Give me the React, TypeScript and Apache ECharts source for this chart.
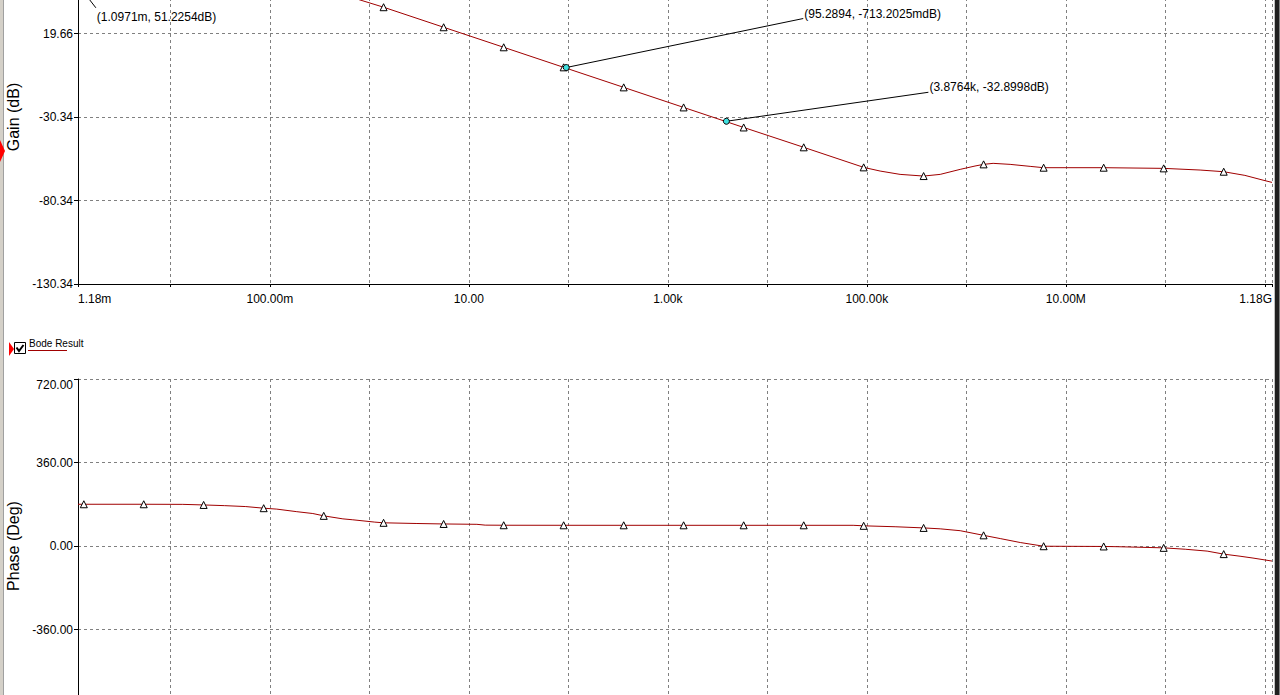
import React, { useEffect, useRef } from "react";
import * as echarts from "echarts";

// ---------- data ----------
const FREQ_MIN = 0.00118;
const FREQ_MAX = 1.18e9;
const xLabelFreqs = [0.00118, 0.1, 10, 1e3, 1e5, 1e7, 1.18e9];

const gainMin = -130.34;
const gainMax = 69.66;
const gainStep = 50;
const phaseMin = -720;
const phaseMax = 720;
const phaseStep = 360;

// gain curve (Hz, dB)
const gainCurveFreq = [
  0.00118, 0.00135, 0.0054, 0.0216, 0.0867, 0.2, 0.348, 0.6, 1.39, 5.58, 22.4, 89.7, 360, 1440, 5780,
  23200, 92900, 135900, 215800, 372000, 546000, 867000, 1.222e6, 1.49e6, 1.858e6, 2.754e6, 4.375e6,
  5.98e6, 2.4e7, 9.62e7, 2.235e8, 3.86e8, 6.3e8, 9.8e8, 1.18e9,
];
const gainCurveDb = [
  51.2, 51.2, 51.2, 51.2, 50.6, 48.7, 45.9, 42.1, 35.4, 23.4, 11.4, -0.6, -12.6, -24.6, -36.6,
  -48.5, -60.5, -62.7, -64.7, -65.7, -64.7, -61.7, -59.7, -58.7, -58.1, -58.7, -59.9,
  -60.7, -60.7, -61.1, -62.1, -63.1, -65.3, -68.3, -69.5,
];

// phase curve (Hz, deg)
const phaseCurveFreq = [
  0.00118, 0.00135, 0.0054, 0.01334, 0.0216, 0.0352, 0.0573, 0.0867, 0.1175, 0.1866, 0.2704, 0.348,
  0.542, 0.682, 1.135, 1.39, 3.006, 5.58, 12.05, 14.6, 22.4, 89.7, 360, 1440, 5780, 23200, 72800,
  92900, 192300, 372000, 546000, 867000, 1.49e6, 2.19e6, 3.48e6, 5.98e6, 2.4e7, 3.28e7, 9.62e7,
  1.585e8, 2.63e8, 3.86e8, 5.63e8, 7.6e8, 1.18e9,
];
const phaseCurveDeg = [
  180, 180, 180, 179.5, 177, 174, 170, 163, 159, 148, 140, 130,
  117, 113, 103, 100, 97, 95, 93.5, 90, 89.5, 89.3, 89.2, 89.2, 89.2, 89.2, 89.2,
  87, 83, 78, 74, 66, 46, 32, 15, -1, -2, -3, -8,
  -14, -22, -35, -44, -52, -65,
];

// triangle markers
const markerFreq = [
  0.00135, 0.0054, 0.0216, 0.0867, 0.348, 1.39, 5.58, 22.4, 89.7, 360, 1440, 5780, 23200, 92900,
  372000, 1.49e6, 5.98e6, 2.4e7, 9.62e7, 3.86e8,
];
const markerGain = [
  51.2, 51.2, 51.2, 50.6, 45.9, 35.4, 23.4, 11.4, -0.6, -12.6, -24.6, -36.6, -48.5, -60.5,
  -65.7, -58.7, -60.7, -60.7, -61.1, -63.1,
];
const markerPhase = [
  180, 180, 177, 163, 130, 100, 95, 89.5, 89.3, 89.2, 89.2, 89.2, 89.2, 87,
  78, 46, -1, -2, -8, -35,
];

// cursors
const cursorFreq = [0.0010971, 95.2894, 3876.4];
const cursorGain = [51.2254, -0.7132025, -32.8998];
const cursorLabels = ["(1.0971m, 51.2254dB)", "(95.2894, -713.2025mdB)", "(3.8764k, -32.8998dB)"];

const legendName = "Bode Result";

// ---------- layout / style ----------
const FONT = '"Liberation Sans", Arial, sans-serif';
const CURVE = "#a00000";
const cursorLayout = [
  { dx: 21, dy: 27, va: "top" },
  { dx: 237, dy: -49, va: "bottom" },
  { dx: 202, dy: -29, va: "bottom" },
];

function formatSI(f: number): string {
  const prefixes: Record<string, string> = { "-1": "m", "0": "", "1": "k", "2": "M", "3": "G" };
  const e = Math.floor(Math.log10(f) / 3 + 1e-9);
  const val = f / Math.pow(10, 3 * e);
  return val.toFixed(2) + (prefixes[String(e)] ?? "");
}

function xLabelFormatter(v: number): string {
  for (const f of xLabelFreqs) {
    if (Math.abs(Math.log10(f) - v) < 1e-6) return formatSI(f);
  }
  return "";
}

const splitLineStyle = { color: "#808080", type: [3, 3] as any, width: 1 };

function makeXAxis(gridIndex: number, showLabels: boolean) {
  return {
    type: "value",
    gridIndex,
    min: Math.log10(FREQ_MIN),
    max: Math.log10(FREQ_MAX),
    splitNumber: 12,
    axisLine: { show: true, onZero: false, lineStyle: { color: "#000", width: 1 } },
    axisTick: { show: true, length: 3, lineStyle: { color: "#000" } },
    axisLabel: {
      show: showLabels,
      formatter: xLabelFormatter,
      margin: 9,
      color: "#000",
      fontSize: 12,
      fontFamily: FONT,
      showMinLabel: true,
      showMaxLabel: true,
      alignMinLabel: "left",
      alignMaxLabel: "right",
    },
    splitLine: { show: true, lineStyle: splitLineStyle },
  };
}

function makeYAxis(
  gridIndex: number,
  min: number,
  max: number,
  interval: number,
  name: string,
  showMin: boolean,
  showMax: boolean
) {
  return {
    type: "value",
    gridIndex,
    min,
    max,
    interval,
    name,
    nameLocation: "middle",
    nameGap: 53,
    nameTextStyle: { fontSize: 16, color: "#000", fontFamily: FONT },
    axisLine: { show: true, onZero: false, lineStyle: { color: "#000", width: 1 } },
    axisTick: { show: true, length: 4, lineStyle: { color: "#000" } },
    axisLabel: {
      formatter: (v: number) => v.toFixed(2),
      margin: 5,
      color: "#000",
      fontSize: 12,
      fontFamily: FONT,
      showMinLabel: showMin,
      showMaxLabel: showMax,
      verticalAlignMaxLabel: "top",
    },
    splitLine: { show: true, lineStyle: splitLineStyle },
  };
}

export default function App() {
  const ref = useRef<HTMLDivElement>(null);

  useEffect(() => {
    if (!ref.current) return;
    const chart = echarts.init(ref.current, undefined, { renderer: "svg" });

    const gainLine = gainCurveFreq.map((f, i) => [Math.log10(f), gainCurveDb[i]]);
    const phaseLine = phaseCurveFreq.map((f, i) => [Math.log10(f), phaseCurveDeg[i]]);
    const gainMarks = markerFreq.map((f, i) => [Math.log10(f), markerGain[i]]);
    const phaseMarks = markerFreq.map((f, i) => [Math.log10(f), markerPhase[i]]);

    const markerStyle = {
      type: "scatter",
      symbol: "triangle",
      symbolSize: [7, 7],
      itemStyle: { color: "#ffffff", borderColor: "#000", borderWidth: 1, opacity: 1 },
      z: 5,
      silent: true,
    };

    const option: any = {
      animation: false,
      backgroundColor: "#ffffff",
      textStyle: { fontFamily: FONT },
      grid: [
        { left: 78, right: 8, top: -50, height: 334, containLabel: false, outerBoundsMode: "none" },
        { left: 78, right: 8, top: 379, height: 334, containLabel: false, outerBoundsMode: "none" },
      ],
      xAxis: [makeXAxis(0, true), makeXAxis(1, false)],
      yAxis: [
        makeYAxis(0, gainMin, gainMax, gainStep, "Gain (dB)", true, false),
        makeYAxis(1, phaseMin, phaseMax, phaseStep, "Phase (Deg)", false, true),
      ],
      series: [
        {
          name: legendName,
          type: "line",
          xAxisIndex: 0,
          yAxisIndex: 0,
          data: gainLine,
          showSymbol: false,
          lineStyle: { color: CURVE, width: 1 },
          itemStyle: { color: CURVE },
          z: 3,
        },
        { ...markerStyle, xAxisIndex: 0, yAxisIndex: 0, data: gainMarks },
        {
          name: legendName,
          type: "line",
          xAxisIndex: 1,
          yAxisIndex: 1,
          data: phaseLine,
          showSymbol: false,
          lineStyle: { color: CURVE, width: 1 },
          itemStyle: { color: CURVE },
          z: 3,
        },
        { ...markerStyle, xAxisIndex: 1, yAxisIndex: 1, data: phaseMarks },
      ],
    };
    chart.setOption(option);

    const elements: any[] = [
      // window frame left
      { type: "rect", shape: { x: 0, y: 0, width: 3, height: 695 }, style: { fill: "#d4d0c8" }, z: 100 },
      { type: "rect", shape: { x: 3, y: 0, width: 1, height: 695 }, style: { fill: "#a0a0a0" }, z: 100 },
      // window frame right
      { type: "rect", shape: { x: 1274, y: 0, width: 1, height: 695 }, style: { fill: "#c0c0c0" }, z: 100 },
      { type: "rect", shape: { x: 1275, y: 0, width: 4, height: 695 }, style: { fill: "#202020" }, z: 100 },
      { type: "rect", shape: { x: 1279, y: 0, width: 1, height: 695 }, style: { fill: "#808080" }, z: 100 },
      // active plot marker
      { type: "polygon", shape: { points: [[0, 140], [5, 151], [0, 162]] }, style: { fill: "#ff0000" }, z: 101 },
      // legend
      { type: "polygon", shape: { points: [[9, 342], [14, 349], [9, 356]] }, style: { fill: "#ff0000" }, z: 101 },
      {
        type: "rect",
        shape: { x: 14.5, y: 342.5, width: 11, height: 11 },
        style: { fill: "#ffffff", stroke: "#000", lineWidth: 1 },
        z: 101,
      },
      {
        type: "polyline",
        shape: { points: [[16.5, 347.5], [19, 351], [23.5, 345]] },
        style: { stroke: "#000", lineWidth: 2, fill: null },
        z: 102,
      },
      {
        type: "text",
        x: 29,
        y: 343,
        style: { text: legendName, font: `10px ${FONT}`, fill: "#000", verticalAlign: "middle", align: "left" },
        z: 101,
      },
      {
        type: "line",
        shape: { x1: 28, y1: 350.5, x2: 67, y2: 350.5 },
        style: { stroke: CURVE, lineWidth: 1 },
        z: 101,
      },
    ];

    cursorFreq.forEach((f, i) => {
      const p = chart.convertToPixel({ xAxisIndex: 0, yAxisIndex: 0 } as any, [Math.log10(f), cursorGain[i]]) as number[];
      if (!p) return;
      const lay = cursorLayout[i];
      const ex = p[0] + lay.dx;
      const ey = p[1] + lay.dy;
      elements.push({
        type: "line",
        shape: { x1: p[0], y1: p[1], x2: ex, y2: ey },
        style: { stroke: "#000", lineWidth: 1 },
        z: 90,
      });
      elements.push({
        type: "circle",
        shape: { cx: p[0], cy: p[1], r: 3 },
        style: { fill: "#40e0e0", stroke: "#000", lineWidth: 1 },
        z: 91,
      });
      elements.push({
        type: "text",
        x: ex + 1,
        y: lay.va === "top" ? ey + 3 : ey + 1,
        style: {
          text: cursorLabels[i],
          font: `12px ${FONT}`,
          fill: "#000",
          align: "left",
          verticalAlign: lay.va,
        },
        z: 92,
      });
    });

    chart.setOption({ graphic: { elements } });

    return () => {
      chart.dispose();
    };
  }, []);

  return (
    <div
      ref={ref}
      style={{ position: "fixed", left: 0, top: 0, width: 1280, height: 695, background: "#fff" }}
    />
  );
}
